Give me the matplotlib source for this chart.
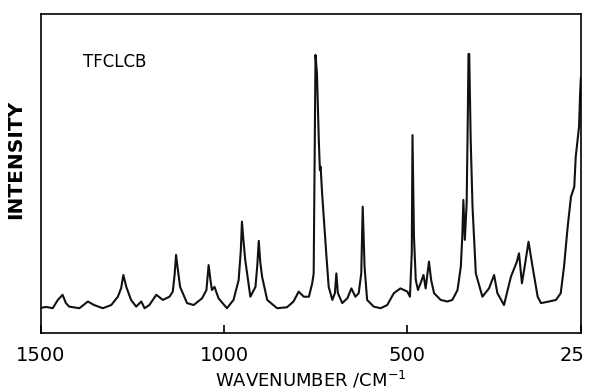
import matplotlib
matplotlib.use("Agg")
import matplotlib.pyplot as plt
import matplotlib.transforms as mtransforms

# values (wavenumber in cm-1, intensity in % of frame height)
wavenumber = [1500, 1486, 1468, 1454, 1441, 1432, 1423, 1395, 1372, 1355,
              1331, 1308, 1290, 1281, 1275, 1267, 1254, 1240, 1226, 1217,
              1204, 1185, 1167, 1149, 1140, 1135, 1131, 1126, 1120, 1101,
              1083, 1060, 1048, 1042, 1037, 1033, 1026, 1015, 992, 974,
              960, 954, 951, 947, 942, 928, 914, 909, 905, 901,
              896, 882, 855, 828, 810, 796, 782, 768, 759, 755,
              752, 750, 746, 741, 738, 736, 732, 727, 720, 714,
              704, 697, 693, 689, 677, 663, 652, 641, 632, 625,
              621, 616, 609, 591, 572, 554, 536, 518, 499, 492,
              487, 485, 481, 476, 470, 463, 455, 449, 440, 434,
              426, 408, 390, 376, 362, 353, 349, 346, 342, 337,
              334, 332, 330, 326, 321, 312, 294, 276, 262, 253,
              235, 216, 207, 200, 194, 186, 180, 168, 157, 143,
              134, 112, 93, 80, 71, 61, 52, 43, 39, 30,
              27, 25]
intensity = [8.0, 8.3, 7.9, 10.5, 12.1, 9.5, 8.4, 7.9, 10.0, 8.9,
             7.9, 8.9, 11.5, 14.2, 18.3, 14.6, 10.5, 8.4, 10.0, 7.9,
             8.9, 12.1, 10.5, 11.5, 13.1, 18.3, 24.6, 19.9, 14.6, 9.5,
             8.9, 11.0, 13.6, 21.4, 16.7, 13.6, 14.6, 11.0, 7.9, 10.5,
             16.7, 26.1, 35.0, 29.3, 23.0, 11.5, 14.6, 21.4, 29.0, 22.4,
             17.8, 10.5, 7.9, 8.2, 10.0, 13.1, 11.5, 11.5, 15.7, 18.8,
             60.6, 87.2, 81.4, 60.6, 51.2, 52.2, 43.9, 35.5, 24.0, 14.6,
             10.5, 12.6, 18.8, 12.7, 9.5, 11.0, 14.1, 11.5, 12.6, 18.8,
             39.7, 20.9, 10.5, 8.4, 7.9, 8.9, 12.6, 14.1, 13.1, 11.5,
             25.2, 62.1, 30.3, 16.7, 13.6, 15.7, 18.3, 14.1, 22.5, 16.7,
             12.6, 10.5, 10.0, 10.5, 13.6, 20.9, 30.3, 41.8, 29.3, 40.8,
             66.8, 87.5, 87.5, 60.6, 39.7, 18.8, 11.5, 14.1, 18.3, 12.6,
             8.9, 17.8, 20.4, 22.4, 25.1, 15.7, 19.9, 28.7, 20.9, 11.5,
             9.5, 10.0, 10.5, 12.6, 20.9, 33.4, 42.8, 45.9, 55.3, 64.7,
             75.0, 80.0]

tick_values = [1500, 1000, 500, 25]
tick_labels = ["1500", "1000", "500", "25"]

fig = plt.figure(figsize=(5.9, 3.9), dpi=100)
ax = fig.add_axes([0.0695, 0.145, 0.915, 0.819])

ax.plot(wavenumber, intensity, color="#111111", lw=1.5)

ax.set_xlim(1500, 25)
ax.set_ylim(0, 100)
ax.set_xticks(tick_values)
ax.set_xticklabels(tick_labels)
ax.set_yticks([])
ax.tick_params(axis="x", direction="in", length=6, width=1.2, pad=9, labelsize=14)
for s in ax.spines.values():
    s.set_linewidth(1.2)

# "25" sits right on the frame edge, nudge it so it stays inside the image
last = ax.get_xticklabels()[-1]
last.set_transform(last.get_transform() + mtransforms.ScaledTranslation(-6 / 72, 0, fig.dpi_scale_trans))

ax.set_xlabel("WAVENUMBER /CM$^{-1}$", fontsize=13, labelpad=3)
fig.text(0.027, 0.59, "INTENSITY", rotation=90, fontsize=14.5, fontweight="bold",
         ha="center", va="center")
ax.text(0.078, 0.85, "TFCLCB", transform=ax.transAxes, fontsize=12, ha="left", va="center")

fig.savefig("out.png", dpi=100)
